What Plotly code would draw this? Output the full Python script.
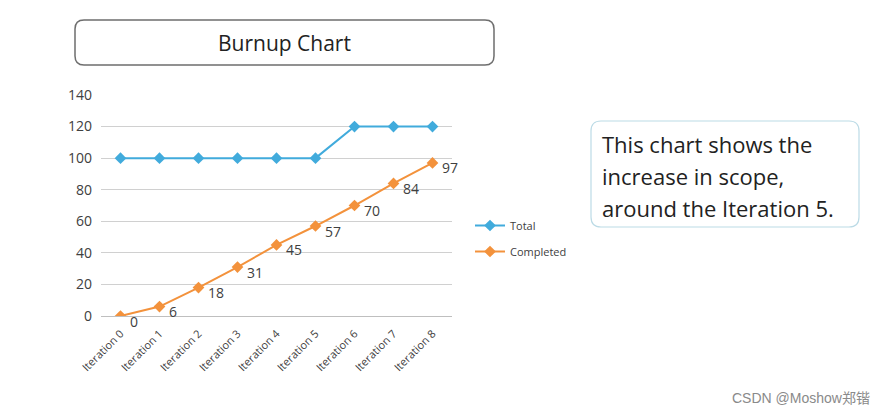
import plotly.graph_objects as go

categories = ["Iteration 0", "Iteration 1", "Iteration 2", "Iteration 3", "Iteration 4",
              "Iteration 5", "Iteration 6", "Iteration 7", "Iteration 8"]
total = [100, 100, 100, 100, 100, 100, 120, 120, 120]
completed = [0, 6, 18, 31, 45, 57, 70, 84, 97]
y_ticks = [0, 20, 40, 60, 80, 100, 120, 140]
side_lines = ["This chart shows the", "increase in scope,", "around the Iteration 5."]

W, H = 887, 416
L, R, T, B = 101, 435, 95, 100
PW, PH = W - L - R, H - T - B

def px(x, y):
    return (x - L) / PW, 1 - (y - T) / PH

def rounded_path(x0, y0, x1, y1, r):
    def p(x, y):
        a, b = px(x, y)
        return f"{a:.5f},{b:.5f}"
    return (f"M {p(x0 + r, y0)} L {p(x1 - r, y0)} Q {p(x1, y0)} {p(x1, y0 + r)} "
            f"L {p(x1, y1 - r)} Q {p(x1, y1)} {p(x1 - r, y1)} L {p(x0 + r, y1)} "
            f"Q {p(x0, y1)} {p(x0, y1 - r)} L {p(x0, y0 + r)} Q {p(x0, y0)} {p(x0 + r, y0)} Z")

BLUE = "#41abdc"
ORANGE = "#f3923c"
FONT = "Open Sans"

fig = go.Figure()
fig.add_trace(go.Scatter(x=categories, y=total, name="Total", mode="lines+markers",
                         legendgroup="a",
                         line=dict(color=BLUE, width=2),
                         marker=dict(symbol="diamond", size=9, color=BLUE)))
fig.add_trace(go.Scatter(x=categories, y=completed, name="Completed", mode="lines+markers",
                         legendgroup="b",
                         line=dict(color=ORANGE, width=2),
                         marker=dict(symbol="diamond", size=9, color=ORANGE)))

annotations = []
for c, v in zip(categories, completed):
    annotations.append(dict(x=c, y=v, xref="x", yref="y", text=str(v), showarrow=False,
                            xanchor="left", yanchor="middle", xshift=7, yshift=-5,
                            font=dict(family=FONT, size=14, color="#404040")))

# Title box text
tx, ty = px(284, 43)
annotations.append(dict(x=tx, y=ty, xref="paper", yref="paper", text="Burnup Chart",
                        showarrow=False, xanchor="center", yanchor="middle",
                        font=dict(family=FONT, size=21, color="#222222")))
# Side text box lines
for i, line in enumerate(side_lines):
    sx, sy = px(600, 144 + 32 * i)
    annotations.append(dict(x=sx, y=sy, xref="paper", yref="paper", text=line,
                            showarrow=False, xanchor="left", yanchor="middle", align="left",
                            font=dict(family=FONT, size=22, color="#222222")))
# Watermark
wx, wy = px(872, 398)
annotations.append(dict(x=wx, y=wy, xref="paper", yref="paper", text="CSDN @Moshow郑锴",
                        showarrow=False, xanchor="right", yanchor="middle",
                        font=dict(family="Liberation Sans, Noto Sans CJK SC", size=14, color="#8a8a8a")))

shapes = [
    dict(type="path", xref="paper", yref="paper", path=rounded_path(75, 20, 494, 65, 9),
         line=dict(color="#6e6e6e", width=1.5), fillcolor="rgba(0,0,0,0)"),
    dict(type="path", xref="paper", yref="paper", path=rounded_path(591, 121, 859, 227, 10),
         line=dict(color="#bcdbe6", width=1.2), fillcolor="rgba(0,0,0,0)"),
]

lx, ly = px(470, 211)
fig.update_layout(
    width=W, height=H, autosize=False,
    margin=dict(l=L, r=R, t=T, b=B),
    paper_bgcolor="white", plot_bgcolor="white",
    showlegend=True,
    legend=dict(x=lx, y=ly, xanchor="left", yanchor="top", bgcolor="rgba(0,0,0,0)",
                font=dict(family=FONT, size=11, color="#404040"), itemwidth=30,
                tracegroupgap=7),
    xaxis=dict(type="category", range=[-0.5, 8.5], showgrid=False, showline=True,
               linecolor="#bfbfbf", linewidth=1, ticks="", tickangle=-45,
               ticklabelstandoff=6,
               tickfont=dict(family=FONT, size=11, color="#404040"), fixedrange=True),
    yaxis=dict(range=[0, 140], tickvals=y_ticks, showgrid=True, gridcolor="#d0d0d0",
               gridwidth=1, zeroline=False, showline=False, ticks="",
               ticklabelstandoff=8,
               tickfont=dict(family=FONT, size=14, color="#404040"), fixedrange=True),
    annotations=annotations, shapes=shapes,
)

fig.write_html("out.html")
